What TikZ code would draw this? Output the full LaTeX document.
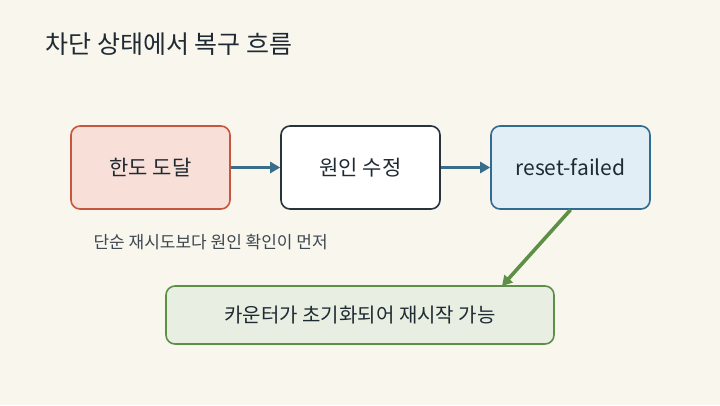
\documentclass[tikz,border=0pt]{standalone}
\usepackage{fontspec}
\setmainfont{Noto Sans CJK KR}
\usetikzlibrary{arrows.meta}
\definecolor{bg}{HTML}{F9F6EE}
\definecolor{ink}{HTML}{1F2A33}
\definecolor{note}{HTML}{3E4850}
\definecolor{redf}{HTML}{F8DFD8}
\definecolor{reds}{HTML}{C8553D}
\definecolor{darks}{HTML}{27343D}
\definecolor{bluef}{HTML}{E2EEF6}
\definecolor{blues}{HTML}{2F6C8F}
\definecolor{arrb}{HTML}{386E8C}
\definecolor{greenf}{HTML}{E8EFE2}
\definecolor{greens}{HTML}{5E8F47}
\tikzset{
  box/.style={draw, rounded corners=9pt, line width=1.6pt, minimum width=159pt, minimum height=83pt, inner sep=0pt, font=\fontsize{21}{25}\selectfont, text=ink},
  flow/.style={-{Triangle[length=10pt,width=11pt]}, line width=3.6pt},
}
\begin{document}
\begin{tikzpicture}[x=1pt,y=-1pt]
\fill[bg] (0,0) rectangle (720,405);
\useasboundingbox (0,0) rectangle (720,405);
\node[anchor=west, font=\fontsize{25}{29}\selectfont, text=ink] (title) at (42,44) {차단 상태에서 복구 흐름};
\node[box, fill=redf, draw=reds] (a) at (150.5,167.5) {한도 도달};
\node[box, fill=white, draw=darks] (b) at (360.5,167.5) {원인 수정};
\node[box, fill=bluef, draw=blues] (c) at (570.5,167.5) {reset-failed};
\node[box, fill=greenf, draw=greens, minimum width=388pt, minimum height=58pt, font=\fontsize{20}{24}\selectfont] (d) at (360,315) {카운터가 초기화되어 재시작 가능};
\node[anchor=west, font=\fontsize{17}{20}\selectfont, text=note] (n) at (90,242) {단순 재시도보다 원인 확인이 먼저};
\draw[flow, draw=arrb] (a.east) -- (b.west);
\draw[flow, draw=arrb] (b.east) -- (c.west);
\draw[flow, draw=greens] (c.south) -- (502,286);
\end{tikzpicture}
\end{document}
